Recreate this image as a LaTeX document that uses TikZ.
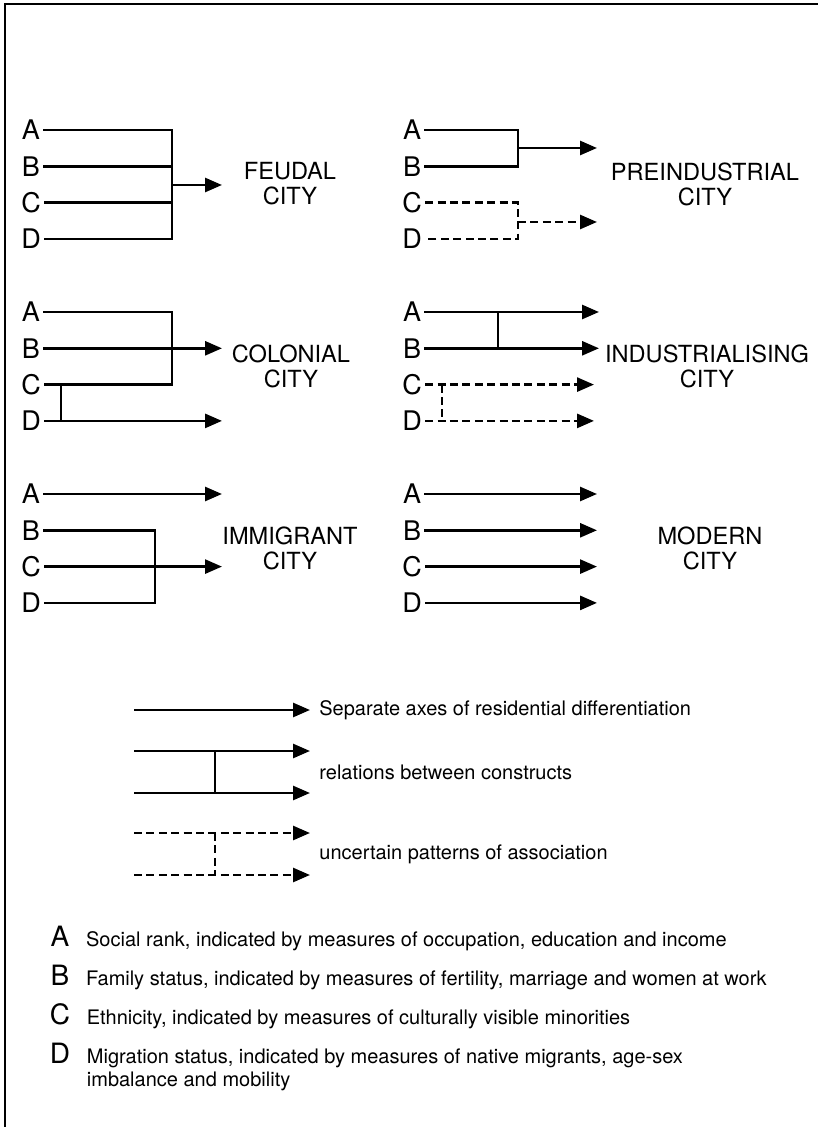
\documentclass[tikz,border=0pt]{standalone}
\usepackage{fontspec}
\setmainfont{TeX Gyre Heros}
\usepackage{tikz}
\usetikzlibrary{positioning,arrows.meta}

\begin{document}
\begin{tikzpicture}[
        x=0.5pt, y=-0.5pt,
        letter/.style={on grid, inner sep=1.5pt, font=\fontsize{13.5}{15}\selectfont},
        city/.style={align=center, inner sep=0pt, font=\fontsize{11.8}{12.5}\selectfont},
        line/.style={line width=1.35pt},
        arrow/.style={line width=1.35pt, -{Triangle[length=8.5pt,width=7pt]}},
        unsure/.style={dash pattern=on 4pt off 2.2pt},
        legtext/.style={anchor=west, inner sep=0pt, font=\fontsize{10}{12}\selectfont},
        keyletter/.style={inner sep=0pt, font=\fontsize{14}{16}\selectfont},
        keytext/.style={inner sep=0pt, font=\fontsize{10}{11.5}\selectfont}
    ]
        \useasboundingbox (0,0) rectangle (818,1127);
        % Frame
        \draw[line width=1.3pt] (5,1127) -- (5,4) -- (818,4);
        % Feudal city
        \node[letter] (feuA) at (31,130) {A};
        \node[letter, below=18.15pt of feuA] (feuB) {B};
        \node[letter, below=18.15pt of feuB] (feuC) {C};
        \node[letter, below=18.15pt of feuC] (feuD) {D};
        \coordinate (feuV) at (172,185);
        \coordinate (feuT) at (222,185);
        \draw[line] (feuA) -- (feuA -| feuV) -- (feuD -| feuV) -- (feuD);
        \draw[line] (feuB) -- (feuB -| feuV);
        \draw[line] (feuC) -- (feuC -| feuV);
        \draw[arrow] (feuV) -- (feuT);
        \node[city] (feu) at (290,184) {FEUDAL\\CITY};
        % Preindustrial city
        \node[letter] (preA) at (412,130) {A};
        \node[letter, below=18.15pt of preA] (preB) {B};
        \node[letter, below=18.15pt of preB] (preC) {C};
        \node[letter, below=18.15pt of preC] (preD) {D};
        \coordinate (preV) at (518,148);
        \coordinate (preT) at (597,148);
        \coordinate (preW) at (518,222);
        \coordinate (preU) at (597,222);
        \draw[line] (preA) -- (preA -| preV) -- (preB -| preV) -- (preB);
        \draw[arrow] (preV) -- (preT);
        \draw[line, unsure] (preC) -- (preC -| preW) -- (preD -| preW) -- (preD);
        \draw[arrow, unsure] (preW) -- (preU);
        \node[city] (pre) at (705,184) {PREINDUSTRIAL\\CITY};
        % Colonial city
        \node[letter] (colA) at (31,312) {A};
        \node[letter, below=18.15pt of colA] (colB) {B};
        \node[letter, below=18.15pt of colB] (colC) {C};
        \node[letter, below=18.15pt of colC] (colD) {D};
        \coordinate (colV) at (172,312);
        \coordinate (colS) at (61,312);
        \coordinate (colT) at (222,312);
        \draw[line] (colA) -- (colA -| colV) -- (colC -| colV) -- (colC);
        \draw[arrow] (colB) -- (colB -| colT);
        \draw[arrow] (colD) -- (colD -| colT);
        \draw[line] (colC -| colS) -- (colD -| colS);
        \node[city] (col) at (291,366) {COLONIAL\\CITY};
        % Industrialising city
        \node[letter] (indA) at (412,312) {A};
        \node[letter, below=18.15pt of indA] (indB) {B};
        \node[letter, below=18.15pt of indB] (indC) {C};
        \node[letter, below=18.15pt of indC] (indD) {D};
        \coordinate (indS) at (498,312);
        \coordinate (indR) at (442,312);
        \coordinate (indT) at (599,312);
        \coordinate (indU) at (594,312);
        \draw[arrow] (indA) -- (indA -| indT);
        \draw[arrow] (indB) -- (indB -| indT);
        \draw[line] (indA -| indS) -- (indB -| indS);
        \draw[arrow, unsure] (indC) -- (indC -| indU);
        \draw[arrow, unsure] (indD) -- (indD -| indU);
        \draw[line, unsure] (indC -| indR) -- (indD -| indR);
        \node[city] (ind) at (707,366) {INDUSTRIALISING\\CITY};
        % Immigrant city
        \node[letter] (immA) at (31,494) {A};
        \node[letter, below=18.15pt of immA] (immB) {B};
        \node[letter, below=18.15pt of immB] (immC) {C};
        \node[letter, below=18.15pt of immC] (immD) {D};
        \coordinate (immV) at (155,494);
        \coordinate (immT) at (222,494);
        \draw[line] (immB) -- (immB -| immV) -- (immD -| immV) -- (immD);
        \draw[arrow] (immA) -- (immA -| immT);
        \draw[arrow] (immC) -- (immC -| immT);
        \node[city] (imm) at (290,548) {IMMIGRANT\\CITY};
        % Modern city
        \node[letter] (modA) at (412,494) {A};
        \node[letter, below=18.15pt of modA] (modB) {B};
        \node[letter, below=18.15pt of modB] (modC) {C};
        \node[letter, below=18.15pt of modC] (modD) {D};
        \coordinate (modT) at (597,494);
        \draw[arrow] (modA) -- (modA -| modT);
        \draw[arrow] (modB) -- (modB -| modT);
        \draw[arrow] (modC) -- (modC -| modT);
        \draw[arrow] (modD) -- (modD -| modT);
        \node[city] (mod) at (710,548) {MODERN\\CITY};
        % Legend
        \coordinate (sepL) at (134,710);
        \coordinate (sepR) at (310,710);
        \draw[arrow] (sepL) -- (sepR);
        \node[legtext, right=4.5pt of sepR] (sep) {Separate axes of residential differentiation};
        \coordinate (relL1) at (134,751);
        \coordinate (relR1) at (310,751);
        \coordinate (relL2) at (134,793);
        \coordinate (relR2) at (310,793);
        \coordinate (relM1) at (215,751);
        \coordinate (relM2) at (215,793);
        \draw[arrow] (relL1) -- (relR1);
        \draw[arrow] (relL2) -- (relR2);
        \draw[line] (relM1) -- (relM2);
        \node[legtext] (rel) at (319,772) {relations between constructs};
        \coordinate (uncL1) at (134,833);
        \coordinate (uncR1) at (310,833);
        \coordinate (uncL2) at (134,875);
        \coordinate (uncR2) at (310,875);
        \coordinate (uncM1) at (215,833);
        \coordinate (uncM2) at (215,875);
        \draw[arrow, unsure] (uncL1) -- (uncR1);
        \draw[arrow, unsure] (uncL2) -- (uncR2);
        \draw[line, unsure] (uncM1) -- (uncM2);
        \node[legtext] (unc) at (319,854) {uncertain patterns of association};
        % Key
        \node[keyletter] (kA) at (60,936) {A};
        \node[keytext, right=8pt of kA.base east, anchor=base west] (kAt) {Social rank, indicated by measures of occupation, education and income};
        \node[keyletter] (kB) at (60,975) {B};
        \node[keytext, right=8pt of kB.base east, anchor=base west] (kBt) {Family status, indicated by measures of fertility, marriage and women at work};
        \node[keyletter] (kC) at (60,1014) {C};
        \node[keytext, right=8pt of kC.base east, anchor=base west] (kCt) {Ethnicity, indicated by measures of culturally visible minorities};
        \node[keyletter] (kD) at (60,1053) {D};
        \node[keytext, right=8pt of kD.base east, anchor=base west] (kDt) {\begin{tabular}[t]{@{}l@{}}Migration status, indicated by measures of native migrants, age-sex\\imbalance and mobility\end{tabular}};
    \end{tikzpicture}
\end{document}
